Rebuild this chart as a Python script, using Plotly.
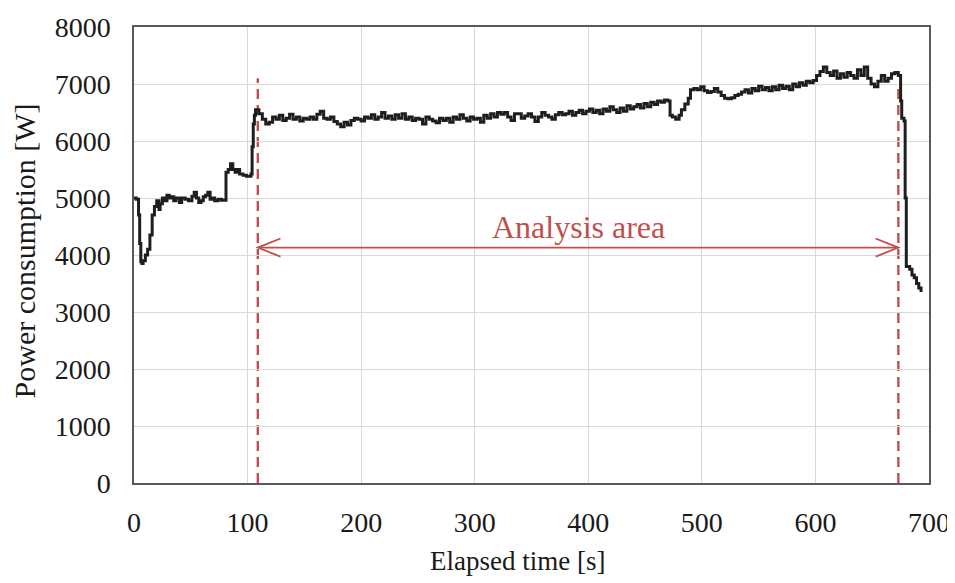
import plotly.graph_objects as go

# ---- data ----
time_s = [0, 2, 4, 5, 6, 7, 8, 10, 12, 14, 16, 18, 20, 22, 23, 25, 27, 29, 31, 33,
          35, 37, 40, 42, 45, 48, 51, 53, 55, 57, 59, 61, 63, 65, 67, 69, 71, 74, 77, 81,
          83, 85, 87, 89, 91, 93, 96, 99, 103, 104, 105, 106, 107,
          110, 113, 116, 119, 122, 125, 128, 131, 134, 137, 140, 143, 146, 149, 152, 155, 158,
          161, 164, 167, 170, 173, 176, 179, 182, 185, 188, 191, 194, 197, 200, 203, 206, 209,
          212, 215, 218, 221, 224, 227, 230, 233, 236, 239, 242, 245, 248, 251, 254, 257, 260,
          263, 266, 269, 272, 275, 278, 281, 284, 287, 290, 293, 296, 299, 302, 305, 308, 311,
          314, 317, 320, 323, 326, 329, 332, 335, 338, 341, 344, 347, 350, 353, 356, 359, 362,
          365, 368, 371, 374, 377, 380, 383, 386, 389, 392, 395, 398, 401, 404, 407, 410, 413,
          416, 419, 422, 425, 428, 431, 434, 437, 440, 443, 446, 449, 452, 455, 458, 461, 464,
          467, 470, 472, 474, 477, 480, 482, 485, 488, 490, 493, 496, 499, 502, 505, 508, 511,
          514, 517, 520, 523, 526, 529, 532, 535, 538, 541, 544, 547, 550, 553, 556, 559, 562,
          565, 568, 571, 574, 577, 580, 583, 586, 589, 592, 595, 598, 601, 604, 607, 610, 613,
          616, 619, 622, 625, 628, 631, 634, 637, 640, 643, 646, 649, 652, 655, 658, 661, 664,
          667, 670, 673, 675, 676, 678, 679, 680, 683, 685, 687, 689, 691, 693]

power_w = [5000, 4980, 4700, 4200, 3880, 3850, 3900, 4000, 4100, 4350, 4700, 4850, 4950, 4800, 4900, 5000, 4950, 5050, 5000, 5020,
           4950, 5000, 4920, 5000, 4980, 4950, 5030, 5100, 5000, 4920, 4950, 5020, 5050, 5100, 4980, 5000, 4950, 4980, 4960, 5450,
           5500, 5600, 5500, 5450, 5500, 5420, 5400, 5380, 5420, 5900, 6300, 6450, 6550,
           6480, 6380, 6300, 6330, 6420, 6380, 6450, 6360, 6400, 6470, 6380, 6420, 6350, 6400, 6380, 6420, 6380,
           6470, 6520, 6400, 6380, 6420, 6340, 6300, 6250, 6330, 6280, 6360, 6400, 6380, 6350, 6420, 6400, 6460,
           6380, 6420, 6500, 6400, 6440, 6380, 6460, 6400, 6480, 6380, 6420, 6360, 6400, 6380, 6300, 6420, 6380,
           6350, 6320, 6400, 6360, 6400, 6330, 6420, 6380, 6460, 6400, 6350, 6420, 6380, 6400, 6330, 6450, 6400,
           6480, 6420, 6500, 6470, 6500, 6420, 6360, 6480, 6480, 6400, 6440, 6480, 6420, 6340, 6420, 6500, 6450,
           6420, 6380, 6460, 6500, 6460, 6480, 6520, 6450, 6500, 6540, 6480, 6520, 6560, 6500, 6540, 6480, 6560,
           6520, 6600, 6550, 6500, 6580, 6520, 6620, 6560, 6600, 6640, 6580, 6660, 6600, 6680, 6640, 6700, 6680,
           6720, 6700, 6450, 6420, 6380, 6450, 6550, 6650, 6750, 6900, 6920, 6900, 6950, 6880, 6850, 6870, 6920,
           6860, 6800, 6750, 6740, 6760, 6800, 6820, 6860, 6900, 6840, 6920, 6880, 6960, 6900, 6940, 6880, 6950,
           6900, 6980, 6920, 6960, 6900, 7000, 6950, 7020, 6980, 7050, 7020, 7060, 7150, 7220, 7300, 7200, 7150,
           7230, 7100, 7180, 7120, 7200, 7150, 7100, 7250, 7150, 7300, 7100, 7000, 6950, 7050, 7150, 7050, 7100,
           7180, 7200, 7150, 6700, 6400, 6350, 5000, 3800, 3750, 3650, 3600, 3500, 3420, 3350]

analysis_start_s = 109
analysis_end_s = 673
arrow_level_w = 4130
label_text = "Analysis area"
x_title = "Elapsed time [s]"
y_title = "Power consumption [W]"

x_ticks = [0, 100, 200, 300, 400, 500, 600, 700]
y_ticks = [0, 1000, 2000, 3000, 4000, 5000, 6000, 7000, 8000]

RED = "#C0504D"
FONT = "Liberation Serif"
TXT = "#1a1a1a"

fig = go.Figure()
fig.add_trace(go.Scatter(
    x=time_s, y=power_w, mode="lines", line=dict(color="#1e1e1e", width=3, shape="hv"),
    showlegend=False, hoverinfo="skip"))

# dashed boundaries
fig.add_shape(type="line", x0=analysis_start_s, x1=analysis_start_s, y0=0, y1=7100,
              line=dict(color=RED, width=2.4, dash="10px,6px"), layer="below")
fig.add_shape(type="line", x0=analysis_end_s, x1=analysis_end_s, y0=0, y1=7000,
              line=dict(color=RED, width=2.4, dash="10px,6px"), layer="below")

# double arrow
fig.add_shape(type="line", x0=analysis_start_s, x1=analysis_end_s, y0=arrow_level_w, y1=arrow_level_w,
              line=dict(color=RED, width=1.8))
hx, hy = 20, 160
fig.add_shape(type="path",
              path=f"M {analysis_start_s + hx},{arrow_level_w + hy} L {analysis_start_s},{arrow_level_w} L {analysis_start_s + hx},{arrow_level_w - hy}",
              line=dict(color=RED, width=1.8))
fig.add_shape(type="path",
              path=f"M {analysis_end_s - hx},{arrow_level_w + hy} L {analysis_end_s},{arrow_level_w} L {analysis_end_s - hx},{arrow_level_w - hy}",
              line=dict(color=RED, width=1.8))

fig.add_annotation(x=(analysis_start_s + analysis_end_s) / 2, y=4500, text=label_text, showarrow=False,
                   font=dict(family=FONT, size=32, color=RED), xanchor="center", yanchor="middle")

# axis titles (page has an 8px body offset, so figure is 8px smaller)
fig.add_annotation(xref="paper", yref="paper", x=0.483, y=-0.17, text=x_title, showarrow=False,
                   font=dict(family=FONT, size=27, color=TXT), xanchor="center", yanchor="middle")
fig.add_annotation(xref="paper", yref="paper", x=-0.1384, y=0.51, text=y_title, showarrow=False, textangle=-90,
                   font=dict(family=FONT, size=30, color=TXT), xanchor="center", yanchor="middle")

fig.update_layout(
    width=947, height=575,
    margin=dict(l=126, r=26, t=19, b=100),
    plot_bgcolor="white", paper_bgcolor="white",
    font=dict(family=FONT, size=28, color=TXT),
    xaxis=dict(range=[0, 700], tickvals=x_ticks, showgrid=True, gridcolor="#d9d9d9", gridwidth=1,
               showline=True, linecolor="#595959", linewidth=1.5, mirror=True, zeroline=False,
               ticks="", ticklabelstandoff=14, automargin=False),
    yaxis=dict(range=[0, 8000], tickvals=y_ticks, showgrid=True, gridcolor="#d9d9d9", gridwidth=1,
               showline=True, linecolor="#595959", linewidth=1.5, mirror=True, zeroline=False,
               ticks="", ticklabelstandoff=16, automargin=False),
)

fig.write_html("out.html")
